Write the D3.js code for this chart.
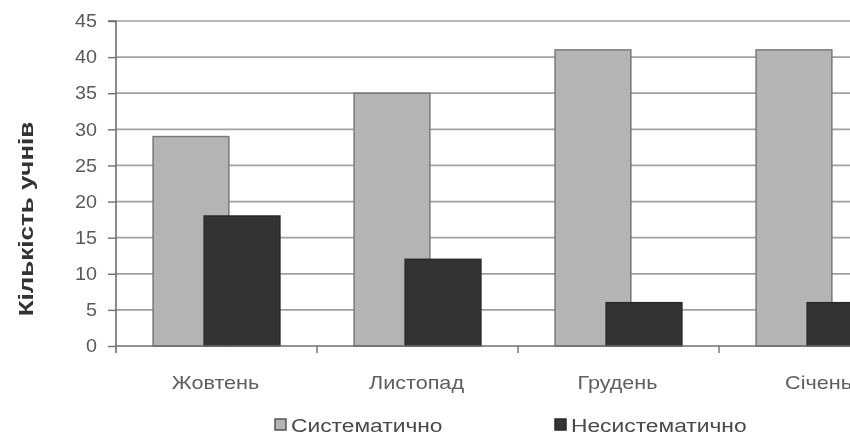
<!DOCTYPE html>
<html>
<head>
<meta charset="utf-8">
<script src="https://cdn.jsdelivr.net/npm/d3@7"></script>
<style>
	html, body { margin: 0; padding: 0; background: #fff; overflow: hidden; }
	svg { display: block; filter: blur(0.45px); }
	text { font-family: "Liberation Sans", Arial, sans-serif; }
</style>
</head>
<body>
<script>
'use strict'

const months = ['Жовтень', 'Листопад', 'Грудень', 'Січень'];
const seriesNames = ['Систематично', 'Несистематично'];
const systematic = [29, 35, 41, 41];
const unsystematic = [18, 12, 6, 6];
const yTicks = [0, 5, 10, 15, 20, 25, 30, 35, 40, 45];
const yTitle = 'Кількість  учнів';

;(() => {
	const W = 850, H = 435;
	const opt = {
		left: 116,
		top: 21,
		bottom: 346,
		band: 201,
		fills: ['#b4b4b4', '#333333'],
		strokes: ['#7a7a7a', '#2a2a2a']
	};

	const svg = d3.select('body').append('svg')
		.attr('width', W)
		.attr('height', H);

	const x = d3.scaleBand()
		.domain(months)
		.range([opt.left, opt.left + opt.band * months.length])
		.padding(0);

	const y = d3.scaleLinear()
		.domain([0, 45])
		.range([opt.bottom, opt.top]);

	// gridlines
	svg.append('g')
		.selectAll('line')
		.data(yTicks.filter(d => d > 0))
		.enter().append('line')
		.attr('x1', opt.left).attr('x2', W)
		.attr('y1', d => y(d)).attr('y2', d => y(d))
		.attr('stroke', '#a0a0a0')
		.attr('stroke-width', 1.7);

	// bars: two series, overlapping
	const bw = x.bandwidth();
	const barW = bw * 0.377;
	const step = bw * 0.254;
	const start = (bw - barW - step) / 2;
	const rows = [];
	months.forEach((m, i) => {
		rows.push({ m: m, s: 0, v: systematic[i] });
		rows.push({ m: m, s: 1, v: unsystematic[i] });
	});

	svg.append('g')
		.selectAll('rect')
		.data(rows)
		.enter().append('rect')
		.attr('x', d => x(d.m) + start + d.s * step)
		.attr('y', d => y(d.v))
		.attr('width', barW)
		.attr('height', d => y(0) - y(d.v))
		.attr('fill', d => opt.fills[d.s])
		.attr('stroke', d => opt.strokes[d.s])
		.attr('stroke-width', 1.5);

	// y axis
	const yAxis = d3.axisLeft(y)
		.tickValues(yTicks)
		.tickSize(8)
		.tickPadding(10);
	const gy = svg.append('g')
		.attr('transform', `translate(${opt.left},0)`)
		.call(yAxis);
	gy.select('.domain').attr('stroke', '#6e6e6e').attr('stroke-width', 1.6)
		.attr('d', `M-8,${opt.top}H0V${opt.bottom + 7}`);
	gy.selectAll('.tick line').attr('stroke', '#6e6e6e').attr('stroke-width', 1.4);
	gy.selectAll('.tick text')
		.attr('fill', '#5a5a5a')
		.attr('transform', 'translate(-9,0) scale(1.1,1) translate(9,0)')
		.style('font-size', '18px')
		.style('font-family', '"Liberation Sans", Arial, sans-serif');

	// x axis
	const gx = svg.append('g')
		.attr('transform', `translate(0,${opt.bottom})`);
	gx.append('line')
		.attr('x1', opt.left).attr('x2', W)
		.attr('y1', 0).attr('y2', 0)
		.attr('stroke', '#6e6e6e').attr('stroke-width', 1.6);
	gx.selectAll('line.tk')
		.data(months)
		.enter().append('line')
		.classed('tk', true)
		.attr('x1', d => x(d) + bw).attr('x2', d => x(d) + bw)
		.attr('y1', 0).attr('y2', 7)
		.attr('stroke', '#6e6e6e').attr('stroke-width', 1.4);
	gx.selectAll('text')
		.data(months)
		.enter().append('text')
		.attr('x', d => x(d) + bw / 2 - 1)
		.attr('y', 43)
		.attr('text-anchor', 'middle')
		.attr('fill', '#5e5e5e')
		.style('font-size', '18px')
		.attr('transform', d => {
			const cx = x(d) + bw / 2 - 1;
			return `translate(${cx},0) scale(1.2,1) translate(${-cx},0)`;
		})
		.text(d => d);

	// y title
	svg.append('text')
		.attr('transform', 'translate(33,219) rotate(-90) scale(1.3,1)')
		.attr('text-anchor', 'middle')
		.attr('fill', '#333')
		.style('font-size', '20px')
		.style('font-weight', 'bold')
		.text(yTitle);

	// legend
	const legX = [275, 555];
	const leg = svg.append('g')
		.selectAll('g')
		.data(seriesNames)
		.enter().append('g')
		.attr('transform', (d, i) => `translate(${legX[i]},419)`);
	leg.append('rect')
		.attr('x', 0).attr('y', 0)
		.attr('width', 11).attr('height', 11)
		.attr('fill', (d, i) => opt.fills[i])
		.attr('stroke', (d, i) => i === 0 ? '#555' : opt.strokes[i])
		.attr('stroke-width', 1.5);
	leg.append('text')
		.attr('x', 0)
		.attr('y', 13)
		.attr('fill', '#4a4a4a')
		.style('font-size', '19px')
		.attr('transform', 'translate(16,0) scale(1.2,1)')
		.text(d => d);
})();
</script>
</body>
</html>
